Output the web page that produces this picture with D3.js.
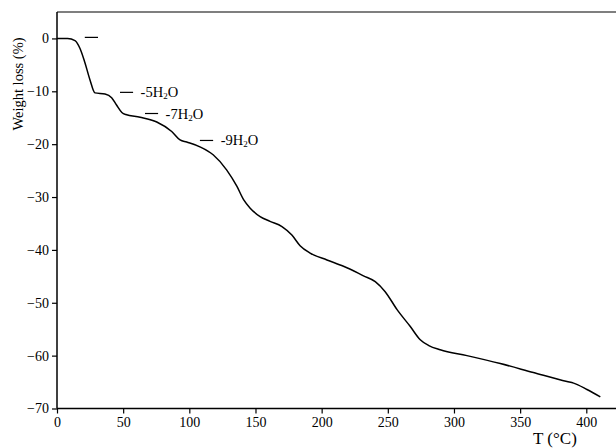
<!DOCTYPE html>
<html lang="en">
<head>
    <meta charset="UTF-8">
    <title>TGA weight loss</title>
    <script src="https://d3js.org/d3.v7.min.js"></script>
    <style>
        body {
            margin: 0;
            padding: 0;
            background-color: #fff;
        }
        svg {
            display: block;
            font-family: "Liberation Serif", "DejaVu Serif", serif;
        }
    </style>
</head>
<body>
    <div id="chart"></div>

    <script>
        // Temperature (°C) and weight loss (%)
        const temps = [0, 8, 13.6, 17.4, 21, 25, 28.7, 36.3, 41.3, 45, 49, 52, 62.8, 75.4,
            86.7, 93, 98, 108, 118, 128.3, 136, 141, 146, 153.5, 161, 170, 177.5, 183.7,
            191.3, 204, 216.5, 231.6, 240.5, 248, 257, 267, 274.5, 281, 289.6, 309.8,
            335, 360, 385.4, 390.4, 400.5, 410.6];
        const weights = [0, 0, -0.4, -1.9, -4.5, -7.9, -10.3, -10.5, -11.2, -12.6, -14, -14.4, -14.9, -15.8,
            -17.6, -19.2, -19.6, -20.5, -22, -24.9, -28, -30.5, -32.1, -33.7, -34.6, -35.6, -37.2, -39.2,
            -40.6, -41.9, -43.1, -44.9, -46, -47.9, -51.3, -54.5, -57, -58.1, -58.9, -60,
            -61.5, -63.2, -64.9, -65.2, -66.4, -67.8];

        const xTicks = [0, 50, 100, 150, 200, 250, 300, 350, 400];
        const yTicks = [0, -10, -20, -30, -40, -50, -60, -70];

        // Step annotations: dash start/end temperature, level, label (number of waters)
        const noteT0 = [21, 47.6, 66.5, 108];
        const noteT1 = [31, 57.5, 76.4, 118];
        const noteW = [0.2, -10.2, -14.2, -19.3];
        const noteLabel = ["", "-5", "-7", "-9"];

        const width = 616, height = 448;
        const x0 = 57, x1 = 586.3;   // pixel positions of 0 and 400 °C
        const yTop = 12, yBottom = 408.5;

        const svg = d3.select("#chart")
            .append("svg")
            .attr("width", width)
            .attr("height", height);

        const x = d3.scaleLinear().domain([0, 400]).range([x0, x1]);
        const y = d3.scaleLinear().domain([-70, 5]).range([yBottom, yTop]);

        // top frame line
        svg.append("line")
            .attr("x1", x0).attr("x2", width)
            .attr("y1", yTop).attr("y2", yTop)
            .attr("stroke", "#555")
            .attr("stroke-width", 1.5);

        // x axis
        const xAxis = svg.append("g")
            .attr("transform", `translate(0,${yBottom})`)
            .call(d3.axisBottom(x).tickValues(xTicks).tickSize(5).tickPadding(4).tickSizeOuter(0));
        xAxis.select(".domain").remove();
        xAxis.append("line")
            .attr("x1", x0).attr("x2", width)
            .attr("stroke", "#000")
            .attr("stroke-width", 1.5);

        // y axis
        const yAxis = svg.append("g")
            .attr("transform", `translate(${x0},0)`)
            .call(d3.axisLeft(y).tickValues(yTicks).tickSize(5).tickPadding(3).tickSizeOuter(0));
        yAxis.select(".domain").remove();
        yAxis.append("line")
            .attr("y1", yTop).attr("y2", yBottom)
            .attr("stroke", "#000")
            .attr("stroke-width", 1.5);

        svg.selectAll(".tick line").attr("stroke", "#000").attr("stroke-width", 1.2);
        svg.selectAll(".tick text")
            .attr("fill", "#000")
            .style("font-family", "'Liberation Serif', serif")
            .style("font-size", "14px");

        // axis titles
        svg.append("text")
            .attr("transform", "translate(23,84) rotate(-90)")
            .attr("text-anchor", "middle")
            .style("font-size", "14.5px")
            .text("Weight loss (%)");

        svg.append("text")
            .attr("x", 533)
            .attr("y", 444)
            .style("font-size", "17px")
            .text("T (°C)");

        // the curve
        const line = d3.line()
            .x((d, i) => x(temps[i]))
            .y(d => y(d))
            .curve(d3.curveMonotoneX);

        svg.append("path")
            .datum(weights)
            .attr("fill", "none")
            .attr("stroke", "#000")
            .attr("stroke-width", 1.5)
            .attr("d", line);

        // annotations
        noteW.forEach((w, i) => {
            svg.append("line")
                .attr("x1", x(noteT0[i])).attr("x2", x(noteT1[i]))
                .attr("y1", y(w)).attr("y2", y(w))
                .attr("stroke", "#000")
                .attr("stroke-width", 1.2);
            if (!noteLabel[i]) return;
            const t = svg.append("text")
                .attr("x", x(noteT1[i]) + 7.5)
                .attr("y", y(w) + 5)
                .style("font-size", "14.5px");
            t.append("tspan").text(noteLabel[i] + "H");
            t.append("tspan").attr("dy", 2).style("font-size", "9px").text("2");
            t.append("tspan").attr("dy", -2).text("O");
        });
    </script>
</body>
</html>
